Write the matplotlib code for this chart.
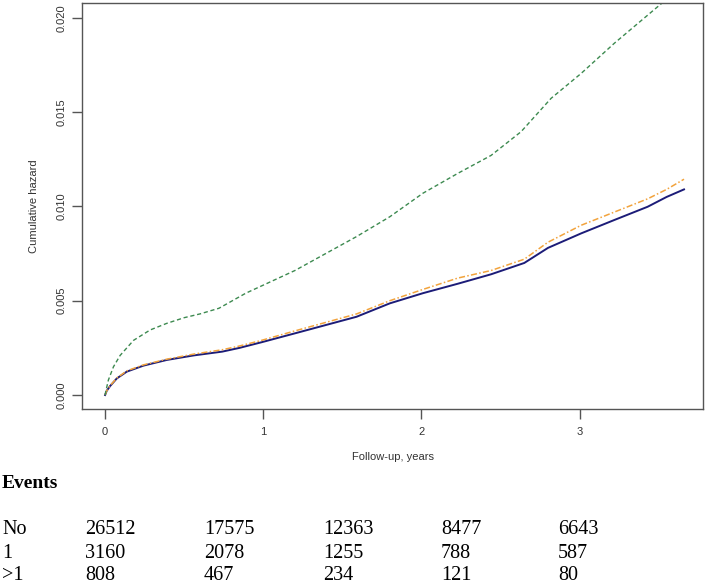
import matplotlib
matplotlib.use("Agg")
import matplotlib.pyplot as plt

# cumulative hazard curves
t_no = [0, 0.01, 0.032, 0.074, 0.137, 0.243, 0.39, 0.56, 0.74, 0.85, 0.99, 1.2, 1.59, 1.8, 2.01,
        2.23, 2.44, 2.65, 2.8, 3.01, 3.22, 3.43, 3.55, 3.66]
haz_no = [0, 0.00022, 0.00048, 0.00088, 0.00124, 0.00156, 0.00186, 0.0021, 0.0023, 0.0025, 0.0028,
          0.00327, 0.00415, 0.00486, 0.0054, 0.0059, 0.0064, 0.0070, 0.0078, 0.00857, 0.00928,
          0.00998, 0.0105, 0.0109]
t_one = t_no
haz_one = [0, 0.00022, 0.0005, 0.0009, 0.00128, 0.0016, 0.0019, 0.00217, 0.0024, 0.0026, 0.0029,
           0.0034, 0.0043, 0.0050, 0.0056, 0.0062, 0.0066, 0.0072, 0.0081, 0.0090, 0.0097, 0.0104,
           0.0109, 0.01144]
t_more = [0, 0.01, 0.021, 0.053, 0.095, 0.18, 0.285, 0.39, 0.5, 0.6, 0.72, 0.89, 1.2, 1.59, 1.8,
          2.01, 2.23, 2.44, 2.63, 2.82, 3.01, 3.22, 3.52, 3.66]
haz_more = [0, 0.0004, 0.0008, 0.0015, 0.0021, 0.0029, 0.00345, 0.0038, 0.0041, 0.0043, 0.0046,
            0.0054, 0.0066, 0.0084, 0.00945, 0.0107, 0.01175, 0.0127, 0.01396, 0.01573, 0.01705,
            0.01865, 0.02077, 0.0216]

# numbers at risk table
row_labels = ["No", "1", ">1"]
at_risk_no = [26512, 17575, 12363, 8477, 6643]
at_risk_one = [3160, 2078, 1255, 788, 587]
at_risk_more = [808, 467, 234, 121, 80]

fig = plt.figure(figsize=(7.09, 5.84), dpi=100)
ax = fig.add_axes([82 / 709, 1 - 409 / 584, 621 / 709, 406 / 584])

ax.plot(t_no, haz_no, color="#1c1c78", lw=1.4, ls="-")
ax.plot(t_one, haz_one, color="#f2a33c", lw=1.1, ls=(0, (4, 1.5, 1, 1.5)))
ax.plot(t_more, haz_more, color="#3d8a50", lw=1.0, ls=(0, (3, 2)))

ax.set_xlim(-0.146, 3.78)
ax.set_ylim(-0.00074, 0.02078)
ax.set_xticks([0, 1, 2, 3])
ax.set_yticks([0, 0.005, 0.010, 0.015, 0.020])
ax.set_yticklabels(["0.000", "0.005", "0.010", "0.015", "0.020"], rotation=90, va="center")

for s in ax.spines.values():
    s.set_color("#555555")
    s.set_linewidth(1.0)
ax.tick_params(colors="#555555", length=7, width=1.0, labelcolor="#333333", labelsize=8)
ax.tick_params(axis="y", pad=4)
ax.tick_params(axis="x", pad=6)
for lab in ax.get_xticklabels() + ax.get_yticklabels():
    lab.set_family("Liberation Sans")

ax.set_ylabel("Cumulative hazard", fontsize=8, family="Liberation Sans", color="#333333")
ax.set_xlabel("Follow-up, years", fontsize=8, family="Liberation Sans", color="#333333")
ax.yaxis.set_label_coords(-0.069, 0.5)
ax.xaxis.set_label_coords(0.5, -0.106)

# events table under the plot
fig.text(2 / 709, 1 - 484 / 584, "Events", fontsize=14, fontweight="bold",
         family="Liberation Serif", va="center", ha="left")
col_x = [85, 204, 323, 441, 558]
row_y = [530, 553, 575]
for lab, vals, y in zip(row_labels, [at_risk_no, at_risk_one, at_risk_more], row_y):
    fig.text(2 / 709, 1 - y / 584, lab, fontsize=14.5, family="Liberation Serif", va="center")
    for x, v in zip(col_x, vals):
        fig.text(x / 709, 1 - y / 584, str(v), fontsize=14.5, family="Liberation Serif", va="center")

fig.savefig("out.png", dpi=100)
